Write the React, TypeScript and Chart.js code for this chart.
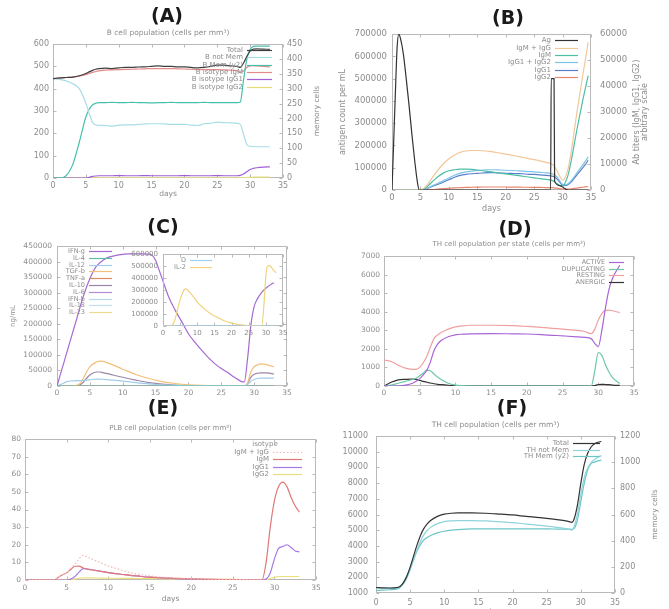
import React, { useEffect, useRef } from "react";
import { Chart, registerables } from "chart.js";

Chart.register(...registerables);

const FONT = "'DejaVu Sans', 'Liberation Sans', sans-serif";
const INK = "#8c8c8c";
const EDGE = "#b9b9b9";

// ---------- (A) B cell population ----------
const aDays = [0, 1, 2, 3, 4, 5, 5.5, 6, 6.5, 7, 8, 9, 10, 11, 12, 13, 14, 15, 16, 17, 18, 19, 20, 21, 22, 23, 24, 25, 26, 27, 28, 28.5, 29, 29.5, 30, 30.5, 31, 32, 33];
const aTotal = [445, 448, 450, 452, 458, 468, 475, 482, 487, 490, 492, 490, 493, 495, 495, 497, 498, 500, 502, 500, 500, 498, 498, 495, 493, 495, 500, 505, 505, 502, 500, 495, 515, 545, 568, 577, 578, 577, 576];
const aNotMem = [445, 442, 435, 422, 400, 335, 290, 250, 238, 236, 235, 232, 237, 238, 238, 240, 242, 243, 243, 242, 240, 240, 240, 237, 235, 243, 245, 250, 248, 247, 245, 240, 195, 150, 142, 140, 140, 140, 140];
const aMem = [0, 0, 8, 45, 120, 205, 230, 245, 251, 253, 253, 254, 253, 253, 254, 253, 253, 252, 253, 253, 254, 253, 253, 253, 253, 254, 253, 253, 253, 253, 253, 255, 330, 400, 432, 442, 443, 443, 443];
const aIgM = [445, 447, 450, 452, 456, 463, 468, 473, 477, 480, 483, 484, 485, 486, 487, 488, 489, 490, 490, 490, 490, 489, 488, 487, 485, 485, 485, 485, 484, 483, 480, 472, 480, 495, 502, 503, 502, 500, 498];
const aIgG1 = [0, 0, 0, 0, 0, 0, 3, 7, 9, 10, 10, 10, 11, 10, 10, 10, 11, 10, 10, 10, 10, 10, 11, 10, 10, 10, 10, 11, 10, 10, 10, 12, 18, 28, 38, 43, 46, 49, 50];
const aIgG2 = [0, 0, 0, 0, 0, 0, 0.5, 1, 1, 1, 1, 1, 1, 1, 1, 1, 1, 1, 1, 1, 1, 1, 1, 1, 1, 1, 1, 1, 1, 1, 1, 1, 1.5, 2, 3, 3.5, 4, 4, 4];

// ---------- (B) antigen and antibodies ----------
const agDays = [0, 0.3, 0.6, 0.9, 1.2, 1.5, 2, 2.5, 3, 3.5, 4, 4.5, 4.8, 27.9, 28, 28.5, 28.6, 29.5, 30.5, 31, 34.5];
const agCount = [0, 220000, 440000, 640000, 700000, 680000, 610000, 500000, 380000, 250000, 130000, 30000, 0, 0, 500000, 500000, 40000, 20000, 5000, 0, 0];
const abDays = [0, 5, 6, 7, 8, 9, 10, 11, 12, 13, 14, 15, 16, 17, 18, 19, 20, 21, 22, 23, 24, 25, 26, 27, 28, 28.5, 29, 29.5, 30, 30.5, 31, 31.5, 32, 32.5, 33, 33.5, 34, 34.5];
const abIgMIgG = [0, 0, 1500, 4500, 7500, 10000, 12000, 13500, 14500, 15000, 15200, 15200, 15100, 14900, 14600, 14200, 13800, 13400, 13000, 12600, 12100, 11700, 11200, 10700, 10100, 9300, 7500, 5300, 3800, 5000, 8500, 14500, 22000, 29500, 36500, 43500, 50000, 56800];
const abIgM = [0, 0, 1000, 3000, 5000, 6500, 7400, 7800, 8000, 8000, 7900, 7700, 7400, 7100, 6800, 6500, 6200, 5900, 5600, 5300, 5000, 4700, 4400, 4100, 3800, 3300, 2500, 1800, 1600, 3000, 6000, 11000, 17000, 23000, 28500, 34000, 39000, 44000];
const abIgG12 = [0, 0, 500, 1500, 2500, 3500, 4600, 5700, 6500, 7000, 7300, 7500, 7700, 7800, 7800, 7700, 7600, 7500, 7400, 7300, 7100, 7000, 6800, 6600, 6300, 6000, 5000, 3500, 2200, 2000, 2500, 3500, 5000, 6500, 8000, 9500, 11000, 12800];
const abIgG1 = [0, 0, 400, 1300, 2150, 3000, 3950, 4900, 5600, 6000, 6250, 6400, 6550, 6650, 6650, 6550, 6450, 6400, 6300, 6250, 6050, 6000, 5800, 5650, 5400, 5150, 4300, 3000, 1850, 1700, 2150, 3050, 4400, 5750, 7100, 8450, 9800, 11450];
const abIgG2 = [0, 0, 100, 200, 350, 500, 650, 800, 900, 1000, 1050, 1100, 1150, 1150, 1150, 1150, 1150, 1100, 1100, 1050, 1050, 1000, 1000, 950, 900, 850, 700, 500, 350, 300, 350, 450, 600, 750, 900, 1050, 1200, 1350];

// ---------- (C) cytokines ----------
const ifngDays = [0, 1, 2, 3, 4, 5, 6, 7, 8, 9, 10, 11, 12, 13, 14, 14.5, 15, 15.5, 16, 17, 18, 19, 20, 21, 22, 23, 24, 25, 26, 27, 28, 28.5, 29, 29.5, 30, 30.5, 31, 32, 33];
const ifng = [0, 72000, 144000, 216000, 288000, 345000, 385000, 404000, 415000, 420000, 423000, 425000, 425000, 425000, 424000, 420000, 404000, 375000, 345000, 286000, 243000, 206000, 168000, 140000, 115000, 92000, 72000, 56000, 43000, 28000, 15000, 13000, 88000, 195000, 255000, 280000, 297000, 318000, 332000];
const cytDays = [0, 1, 1.5, 2, 3, 3.5, 4, 4.5, 5, 6, 6.5, 7, 8, 10, 12, 14, 16, 18, 20, 22, 25, 28, 28.5, 29, 29.5, 30, 30.5, 31, 32, 33];
const tgfb = [0, 0, 0, 0, 2000, 8000, 25000, 45000, 62000, 77000, 80000, 79000, 72000, 54000, 37000, 24000, 14000, 8000, 4000, 2000, 800, 300, 200, 10000, 45000, 62000, 68000, 71000, 68000, 62000];
const il10 = [0, 0, 0, 0, 1000, 4000, 12000, 25000, 35000, 45000, 45000, 43000, 38000, 28000, 19000, 11000, 6000, 3000, 1500, 700, 300, 100, 100, 8000, 28000, 38000, 41000, 42000, 42000, 38000];
const il12 = [0, 9000, 14000, 16000, 17000, 17500, 18000, 19000, 20000, 22000, 22000, 21500, 20000, 15500, 11000, 7000, 4000, 2000, 1000, 500, 200, 100, 100, 5000, 15000, 21000, 24000, 25000, 25000, 25000];
const flatDays = [0, 33];
const il4 = [0, 0];
const tnfa = [0, 0];
const il6 = [0, 0];
const ifnb = [0, 0];
const il18 = [0, 0];
const il23 = [0, 0];
const il2Days = [0, 2, 3, 3.5, 4, 5, 6, 6.5, 7, 8, 9, 10, 12, 14, 16, 18, 20, 22, 24, 26, 28, 28.8, 29.5, 30, 30.5, 31, 31.5, 32, 33];
const il2 = [0, 0, 20000, 55000, 110000, 220000, 295000, 311000, 305000, 275000, 240000, 200000, 145000, 100000, 70000, 42000, 24000, 12000, 6000, 3000, 1000, 0, 200000, 420000, 500000, 505000, 495000, 475000, 445000];
const danger = [0, 0];

// ---------- (D) TH cells per state ----------
const dDays = [0, 1, 2, 3, 4, 4.5, 5, 5.5, 6, 6.5, 7, 7.5, 8, 9, 10, 11, 12, 15, 18, 20, 22, 25, 27, 28, 29, 29.5, 30, 30.5, 31, 31.5, 32, 33];
const dActive = [0, 0, 10, 50, 150, 250, 400, 600, 850, 1300, 1900, 2250, 2450, 2650, 2750, 2790, 2810, 2820, 2810, 2800, 2770, 2700, 2650, 2620, 2550, 2300, 2120, 3000, 4200, 5200, 5800, 6500];
const dDuplicating = [0, 50, 150, 250, 350, 420, 550, 700, 850, 820, 650, 480, 350, 150, 50, 15, 0, 0, 0, 0, 0, 0, 0, 0, 0, 800, 1800, 1650, 1150, 750, 450, 130];
const dResting = [1400, 1320, 1120, 960, 900, 895, 1000, 1250, 1600, 2100, 2550, 2750, 2880, 3060, 3180, 3240, 3270, 3270, 3250, 3210, 3160, 3060, 2990, 2950, 2820, 3050, 3550, 3900, 4070, 4090, 4050, 3950];
const dAnergic = [0, 200, 330, 360, 370, 360, 300, 250, 200, 160, 120, 90, 70, 40, 20, 10, 0, 0, 0, 0, 0, 0, 0, 0, 0, 20, 80, 90, 80, 70, 50, 30];

// ---------- (E) PLB cells ----------
const eDays = [0, 3.5, 4, 4.5, 5, 5.5, 6, 6.5, 7, 7.5, 8, 9, 10, 11, 12, 13, 14, 15, 16, 18, 20, 22, 25, 28.5, 29, 29.5, 30, 30.5, 31, 31.5, 32, 32.5, 33];
const eSum = [0, 0, 1.5, 3, 4, 6.5, 9, 12, 14, 13, 12, 10, 8, 6.5, 5, 3.8, 3, 2.3, 1.8, 1.2, 0.8, 0.5, 0.3, 0, null, null, null, null, null, null, null, null, null];
const eIgM = [0, 0, 1.5, 3, 4, 6, 7.8, 7.9, 6.8, 6.2, 5.8, 5, 4.2, 3.6, 3, 2.5, 2, 1.6, 1.3, 0.9, 0.6, 0.4, 0.2, 0, 10, 30, 45, 53, 55.5, 53, 47, 42, 38.5];
const eIgG1 = [0, 0, 0, 0, 0, 0.5, 2, 4.5, 6.5, 6.2, 5.8, 5, 4.2, 3.6, 3, 2.5, 2, 1.6, 1.3, 0.8, 0.5, 0.3, 0.1, 0, 0.5, 4, 12, 18, 19, 20, 18.5, 16.5, 16];
const eIgG2 = [0, 0, 0, 0, 0, 0.3, 0.6, 1, 1.2, 1.2, 1.2, 1.1, 1, 1, 0.9, 0.9, 0.8, 0.8, 0.7, 0.6, 0.5, 0.4, 0.3, 0, 0.2, 0.8, 1.5, 2, 2, 2, 2, 2, 2];

// ---------- (F) TH cells ----------
const fDays = [0, 1, 2, 3, 3.5, 4, 4.5, 5, 5.5, 6, 6.5, 7, 7.5, 8, 9, 10, 11, 12, 14, 16, 18, 20, 22, 24, 26, 28, 28.7, 29, 29.5, 30, 30.5, 31, 31.5, 32, 32.5, 33];
const fTotal = [1350, 1330, 1320, 1340, 1420, 1650, 2050, 2650, 3350, 4050, 4650, 5100, 5400, 5620, 5880, 6020, 6080, 6100, 6100, 6080, 6030, 5970, 5880, 5800, 5700, 5580, 5500, 5700, 6600, 8000, 9200, 9900, 10300, 10500, 10600, 10650];
const fNotMem = [1330, 1310, 1295, 1310, 1380, 1570, 1920, 2460, 3090, 3730, 4280, 4700, 4980, 5180, 5420, 5550, 5600, 5615, 5610, 5590, 5540, 5480, 5390, 5310, 5210, 5090, 5010, 5210, 6040, 7300, 8360, 8960, 9310, 9500, 9650, 9750];
const fMem = [20, 22, 25, 30, 40, 80, 130, 190, 260, 320, 370, 405, 425, 440, 460, 472, 480, 485, 490, 490, 490, 490, 490, 490, 489, 488, 487, 492, 560, 700, 840, 940, 990, 1000, 1010, 1015];

type Box = { x: number; y: number; w: number; h: number };
type Area = { l: number; t: number; r: number; b: number };

function pts(xs: number[], ys: (number | null)[]) {
  return xs.map((x, i) => ({ x, y: ys[i] }));
}

function series(label: string, xs: number[], ys: (number | null)[], color: string, extra: any = {}) {
  return {
    label,
    data: pts(xs, ys),
    borderColor: color,
    backgroundColor: color,
    borderWidth: 1.2,
    pointRadius: 0,
    cubicInterpolationMode: "monotone",
    fill: false,
    ...extra,
  };
}

function axis(r: number[], size: number, position: string, afterFit: (s: any) => void) {
  return {
    type: "linear",
    position,
    min: r[0],
    max: r[1],
    grid: { display: false, drawTicks: false },
    border: { display: false },
    ticks: {
      stepSize: r[2],
      autoSkip: false,
      maxRotation: 0,
      minRotation: 0,
      color: INK,
      font: { family: FONT, size },
      padding: r[3],
      callback: (v: number) => String(v),
    },
    afterFit,
  };
}

// gnuplot-like frame, inward ticks, key and labels
function gnuplotLook(deco: any) {
  return {
    id: "gnuplotLook",
    beforeDatasetsDraw(chart: any) {
      const { ctx, chartArea: a, scales } = chart;
      ctx.save();
      ctx.strokeStyle = EDGE;
      ctx.lineWidth = 1;
      const L = Math.round(a.left) + 0.5, T = Math.round(a.top) + 0.5;
      const R = Math.round(a.right) - 0.5, B = Math.round(a.bottom) - 0.5;
      ctx.strokeRect(L, T, R - L, B - T);
      const tk = 3;
      ctx.beginPath();
      scales.x.ticks.forEach((t: any) => {
        const px = Math.round(scales.x.getPixelForValue(t.value)) + 0.5;
        ctx.moveTo(px, B); ctx.lineTo(px, B - tk);
        ctx.moveTo(px, T); ctx.lineTo(px, T + tk);
      });
      scales.y.ticks.forEach((t: any) => {
        const py = Math.round(scales.y.getPixelForValue(t.value)) + 0.5;
        ctx.moveTo(L, py); ctx.lineTo(L + tk, py);
        if (!scales.y2) { ctx.moveTo(R, py); ctx.lineTo(R - tk, py); }
      });
      if (scales.y2) {
        scales.y2.ticks.forEach((t: any) => {
          const py = Math.round(scales.y2.getPixelForValue(t.value)) + 0.5;
          ctx.moveTo(R, py); ctx.lineTo(R - tk, py);
        });
      }
      ctx.stroke();
      ctx.restore();
    },
    afterDatasetsDraw(chart: any) {
      const { ctx, chartArea: a } = chart;
      const cx = (a.left + a.right) / 2;
      const cy = (a.top + a.bottom) / 2;
      ctx.save();
      ctx.fillStyle = INK;
      ctx.textBaseline = "middle";
      if (deco.heading) {
        ctx.font = `${deco.heading.size}px ${FONT}`;
        ctx.textAlign = "center";
        ctx.fillText(deco.heading.text, cx, a.top - deco.heading.dy);
      }
      if (deco.xTitle) {
        ctx.font = `${deco.xTitle.size}px ${FONT}`;
        ctx.textAlign = "center";
        ctx.fillText(deco.xTitle.text, cx, a.bottom + deco.xTitle.dy);
      }
      const vTitle = (spec: any, x: number) => {
        ctx.save();
        ctx.font = `${spec.size}px ${FONT}`;
        ctx.textAlign = "center";
        ctx.translate(x, cy);
        ctx.rotate(-Math.PI / 2);
        const n = spec.lines.length;
        spec.lines.forEach((s: string, i: number) => {
          ctx.fillText(s, 0, (i - (n - 1) / 2) * (spec.lh || spec.size * 1.15));
        });
        ctx.restore();
      };
      if (deco.yTitle) vTitle(deco.yTitle, a.left - deco.yTitle.dx);
      if (deco.y2Title) vTitle(deco.y2Title, a.right + deco.y2Title.dx);
      const k = deco.key;
      if (k) {
        ctx.font = `${k.size}px ${FONT}`;
        let row = 0;
        if (k.title) {
          ctx.textAlign = "center";
          ctx.fillStyle = INK;
          ctx.fillText(k.title, a.left + k.titleX, a.top + k.y);
          row++;
        }
        chart.data.datasets.forEach((ds: any) => {
          const y = Math.round(a.top + k.y + row * k.pitch) + 0.5;
          row++;
          const x0 = a.left + k.x;
          ctx.fillStyle = INK;
          ctx.textAlign = "right";
          ctx.fillText(ds.label, x0 - 4, y);
          ctx.strokeStyle = ds.borderColor;
          ctx.lineWidth = ds.borderWidth;
          ctx.setLineDash(ds.borderDash || []);
          ctx.beginPath();
          ctx.moveTo(x0, y);
          ctx.lineTo(x0 + k.len, y);
          ctx.stroke();
          ctx.setLineDash([]);
        });
      }
      ctx.restore();
    },
  };
}

type Spec = {
  box: Box;
  area: Area;
  size: number;
  x: number[];
  y: number[];
  y2?: number[];
  datasets: any[];
  deco: any;
};

function makeConfig(spec: Spec) {
  const { box, area, size, x, y, y2, datasets, deco } = spec;
  const scales: any = {
    x: axis(x, size, "bottom", (s) => { s.height = box.y + box.h - area.b; }),
    y: axis(y, size, "left", (s) => { s.width = area.l - box.x; }),
  };
  if (y2) scales.y2 = axis(y2, size, "right", (s) => { s.width = box.x + box.w - area.r; });
  return {
    type: "line",
    data: { datasets },
    options: {
      responsive: false,
      animation: false,
      events: [],
      layout: { padding: { top: area.t - box.y, left: 0, bottom: 0, right: y2 ? 0 : box.x + box.w - area.r } },
      plugins: { legend: { display: false }, tooltip: { enabled: false }, title: { display: false } },
      scales,
    },
    plugins: [gnuplotLook(deco)],
  };
}

const panelA: Spec = {
  box: { x: 0, y: 24, w: 330, h: 178 },
  area: { l: 53, t: 44, r: 283, b: 178 },
  size: 8,
  x: [0, 35, 5, 3],
  y: [0, 600, 100, 4],
  y2: [0, 450, 50, 4],
  datasets: [
    series("Total", aDays, aTotal, "#404040"),
    series("B not Mem", aDays, aNotMem, "#a8dde6"),
    series("B Mem (y2)", aDays, aMem, "#45bfae", { yAxisID: "y2" }),
    series("B isotype IgM", aDays, aIgM, "#e58a8a"),
    series("B isotype IgG1", aDays, aIgG1, "#a35fd6"),
    series("B isotype IgG2", aDays, aIgG2, "#e8dc78"),
  ],
  deco: {
    heading: { text: "B cell population (cells per mm³)", dy: 11, size: 7.5 },
    xTitle: { text: "days", dy: 16, size: 7.5 },
    y2Title: { lines: ["memory cells"], dx: 34, size: 7.5 },
    key: { x: 194, y: 6, pitch: 7.3, len: 25, size: 7 },
  },
};

const panelB: Spec = {
  box: { x: 335, y: 20, w: 334, h: 196 },
  area: { l: 392, t: 34, r: 591, b: 190 },
  size: 8.5,
  x: [0, 35, 5, 3],
  y: [0, 700000, 100000, 5],
  y2: [0, 60000, 10000, 9],
  datasets: [
    series("Ag", agDays, agCount, "#333333"),
    series("IgM + IgG", abDays, abIgMIgG, "#f3c79a", { yAxisID: "y2" }),
    series("IgM", abDays, abIgM, "#4dbfa5", { yAxisID: "y2" }),
    series("IgG1 + IgG2", abDays, abIgG12, "#7cc3e8", { yAxisID: "y2" }),
    series("IgG1", abDays, abIgG1, "#5a7fc9", { yAxisID: "y2" }),
    series("IgG2", abDays, abIgG2, "#e6866e", { yAxisID: "y2" }),
  ],
  deco: {
    xTitle: { text: "days", dy: 19, size: 8 },
    yTitle: { lines: ["antigen count per mL"], dx: 49, size: 8 },
    y2Title: { lines: ["Ab titers (IgM, IgG1, IgG2)", "arbitrary scale"], dx: 50, size: 8, lh: 8.5 },
    key: { x: 163, y: 6, pitch: 7.4, len: 23, size: 7 },
  },
};

const panelC: Spec = {
  box: { x: 0, y: 236, w: 300, h: 166 },
  area: { l: 57, t: 246, r: 287, b: 386 },
  size: 7.5,
  x: [0, 35, 5, 3],
  y: [0, 450000, 50000, 5],
  datasets: [
    series("IFN-g", ifngDays, ifng, "#a46ad2"),
    series("IL-4", flatDays, il4, "#5cbfa8"),
    series("IL-12", cytDays, il12, "#9fcdea"),
    series("TGF-b", cytDays, tgfb, "#f2c079"),
    series("TNF-a", flatDays, tnfa, "#d98b6a"),
    series("IL-10", cytDays, il10, "#9c86a8"),
    series("IL-6", flatDays, il6, "#b48ad6"),
    series("IFN-b", flatDays, ifnb, "#b7d9ee"),
    series("IL-18", flatDays, il18, "#c3e1f0"),
    series("IL-23", flatDays, il23, "#efd98c"),
  ],
  deco: {
    yTitle: { lines: ["ng/mL"], dx: 44, size: 7 },
    key: { x: 32, y: 5, pitch: 6.8, len: 23, size: 6.5 },
  },
};

const panelCInset: Spec = {
  box: { x: 115, y: 245, w: 180, h: 96 },
  area: { l: 163, t: 253, r: 283, b: 326 },
  size: 7,
  x: [0, 35, 5, 3],
  y: [0, 600000, 100000, 5],
  datasets: [
    series("D", flatDays, danger, "#9fd0ec"),
    series("IL-2", il2Days, il2, "#f0d37c"),
  ],
  deco: {
    key: { x: 27, y: 6, pitch: 6.5, len: 22, size: 6.5 },
  },
};

const panelD: Spec = {
  box: { x: 340, y: 236, w: 310, h: 166 },
  area: { l: 384, t: 256, r: 634, b: 386 },
  size: 7.5,
  x: [0, 35, 5, 3],
  y: [0, 7000, 1000, 4],
  datasets: [
    series("ACTIVE", dDays, dActive, "#a865d8"),
    series("DUPLICATING", dDays, dDuplicating, "#6cc9a4"),
    series("RESTING", dDays, dResting, "#f0a0a0"),
    series("ANERGIC", dDays, dAnergic, "#333333"),
  ],
  deco: {
    heading: { text: "TH cell population per state (cells per mm³)", dy: 12, size: 7 },
    key: { x: 225, y: 6, pitch: 6.7, len: 15, size: 6.5 },
  },
};

const panelE: Spec = {
  box: { x: 0, y: 418, w: 330, h: 191 },
  area: { l: 25, t: 439, r: 316, b: 580 },
  size: 7.5,
  x: [0, 35, 5, 4],
  y: [0, 80, 10, 4],
  datasets: [
    series("IgM + IgG", eDays, eSum, "#f2b8b8", { borderDash: [1.5, 2] }),
    series("IgM", eDays, eIgM, "#e07878"),
    series("IgG1", eDays, eIgG1, "#a57ae6"),
    series("IgG2", eDays, eIgG2, "#ecdf7a"),
  ],
  deco: {
    heading: { text: "PLB cell population (cells per mm³)", dy: 11, size: 7 },
    xTitle: { text: "days", dy: 19, size: 7.5 },
    key: { x: 248, y: 5, pitch: 7.5, len: 29, size: 7, title: "isotype", titleX: 240 },
  },
};

const panelF: Spec = {
  box: { x: 335, y: 415, w: 334, h: 194 },
  area: { l: 376, t: 436, r: 615, b: 593 },
  size: 8,
  x: [0, 35, 5, 5],
  y: [1000, 11000, 1000, 8],
  y2: [0, 1200, 200, 5],
  datasets: [
    series("Total", fDays, fTotal, "#333333"),
    series("TH not Mem", fDays, fNotMem, "#8fd3dc"),
    series("TH Mem (y2)", fDays, fMem, "#6cc6c6", { yAxisID: "y2" }),
  ],
  deco: {
    heading: { text: "TH cell population (cells per mm³)", dy: 11, size: 7.5 },
    xTitle: { text: "days", dy: 19, size: 7.5 },
    y2Title: { lines: ["memory cells"], dx: 40, size: 7.5 },
    key: { x: 197, y: 7, pitch: 6.7, len: 27, size: 7 },
  },
};

const panels = [panelA, panelB, panelC, panelCInset, panelD, panelE, panelF];

const letters = [
  { text: "(A)", x: 167, y: 15 },
  { text: "(B)", x: 508, y: 17 },
  { text: "(C)", x: 163, y: 226 },
  { text: "(D)", x: 515, y: 228 },
  { text: "(E)", x: 163, y: 407 },
  { text: "(F)", x: 512, y: 407 },
];

function Panel({ spec }: { spec: Spec }) {
  const ref = useRef<HTMLCanvasElement>(null);
  useEffect(() => {
    const chart = new Chart(ref.current as HTMLCanvasElement, makeConfig(spec) as any);
    return () => chart.destroy();
  }, [spec]);
  const { box } = spec;
  return (
    <canvas
      ref={ref}
      width={box.w}
      height={box.h}
      style={{ position: "absolute", left: box.x, top: box.y, width: box.w, height: box.h }}
    />
  );
}

export default function App() {
  return (
    <div
      style={{
        position: "absolute",
        left: 0,
        top: 0,
        width: 669,
        height: 609,
        overflow: "hidden",
        background: "#ffffff",
      }}
    >
      {panels.map((p, i) => (
        <Panel key={i} spec={p} />
      ))}
      {letters.map((l) => (
        <div
          key={l.text}
          style={{
            position: "absolute",
            left: l.x,
            top: l.y - 11,
            transform: "translateX(-50%)",
            font: `bold 19px ${FONT}`,
            lineHeight: "22px",
            color: "#1a1a1a",
            whiteSpace: "nowrap",
          }}
        >
          {l.text}
        </div>
      ))}
    </div>
  );
}
